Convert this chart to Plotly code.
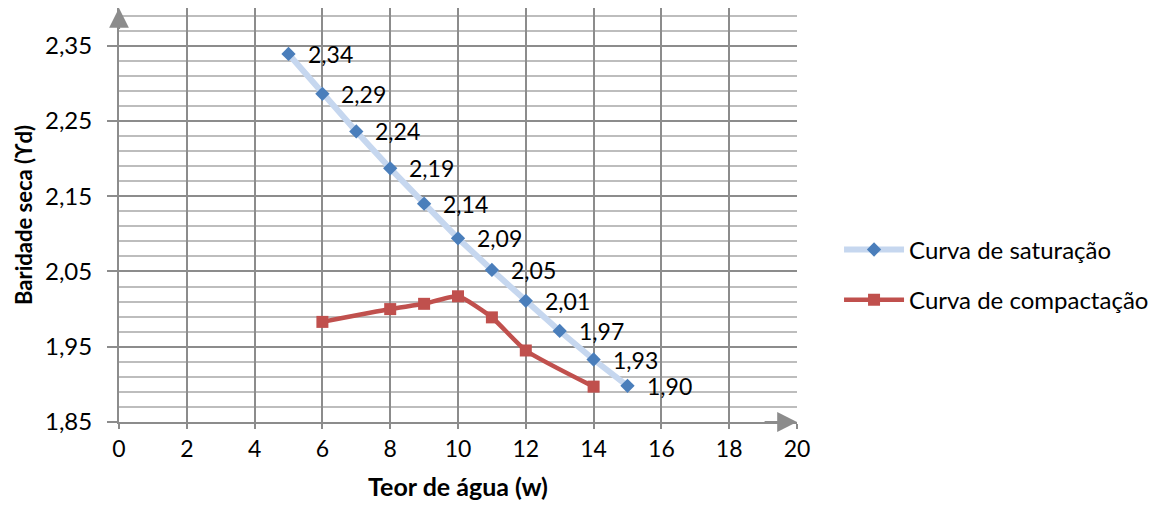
import plotly.graph_objects as go

# Data
sat_x = [5, 6, 7, 8, 9, 10, 11, 12, 13, 14, 15]
sat_y = [2.339, 2.286, 2.236, 2.187, 2.140, 2.094, 2.052, 2.011, 1.971, 1.933, 1.898]
comp_x = [6, 8, 9, 10, 11, 12, 14]
comp_y = [1.983, 2.000, 2.007, 2.017, 1.989, 1.945, 1.897]

x_ticks = list(range(0, 21, 2))
y_ticks = [1.85, 1.95, 2.05, 2.15, 2.25, 2.35]

FONT = "Lato"
GRID_MAJOR = "#8c8c8c"
GRID_MINOR = "#bdbdbd"

fig = go.Figure()
fig.add_trace(go.Scatter(
    x=sat_x, y=sat_y, mode="lines+markers", name="Curva de saturação",
    line=dict(color="#c6d7ef", width=6),
    marker=dict(symbol="diamond", size=11, color="#4a7ebb"),
    legendgroup="a",
))
fig.add_trace(go.Scatter(
    x=comp_x, y=comp_y, mode="lines+markers", name="Curva de compactação",
    line=dict(color="#c0504d", width=4.5, shape="spline", smoothing=0.5),
    marker=dict(symbol="square", size=12, color="#c0504d"),
    legendgroup="b",
))

for xv, yv in zip(sat_x, sat_y):
    fig.add_annotation(x=xv, y=yv, text=f"{yv:.2f}".replace(".", ","),
                       showarrow=False, xanchor="left", yanchor="middle",
                       xshift=17, font=dict(family=FONT, size=23, color="#000"))

# axis arrows
fig.add_annotation(x=0, y=2.40, ax=0, ay=2.37, xref="x", yref="y", axref="x", ayref="y",
                   showarrow=True, arrowhead=2, arrowsize=1.8, arrowwidth=2.2,
                   arrowcolor="#8c8c8c", text="")
fig.add_annotation(x=20, y=1.85, ax=19, ay=1.85, xref="x", yref="y", axref="x", ayref="y",
                   showarrow=True, arrowhead=2, arrowsize=1.8, arrowwidth=2.2,
                   arrowcolor="#8c8c8c", text="")

fig.update_layout(
    width=1165, height=512,
    margin=dict(l=111, r=376, t=0, b=98),
    paper_bgcolor="white", plot_bgcolor="white",
    separators=",.",
    font=dict(family=FONT, size=23, color="#000"),
    showlegend=True,
    legend=dict(x=1.062, y=0.47, xanchor="left", yanchor="top",
                font=dict(family=FONT, size=24, color="#000"),
                tracegroupgap=16, itemwidth=60, bgcolor="rgba(0,0,0,0)"),
    xaxis=dict(
        range=[0, 20], tickvals=x_ticks, ticktext=[str(v) for v in x_ticks],
        showgrid=True, gridcolor=GRID_MAJOR, gridwidth=1.5,
        showline=True, linecolor=GRID_MAJOR, linewidth=2,
        ticks="outside", ticklen=5, tickcolor=GRID_MAJOR, tickwidth=2,
        zeroline=False, automargin=False,
        title=dict(text="<b>Teor de água (w)</b>", font=dict(family=FONT, size=25), standoff=18),
        tickfont=dict(family=FONT, size=23),
    ),
    yaxis=dict(
        range=[1.85, 2.40], tickvals=y_ticks, ticktext=[f"{v:.2f}".replace(".", ",") for v in y_ticks],
        showgrid=True, gridcolor=GRID_MAJOR, gridwidth=1.5,
        minor=dict(dtick=0.02, tick0=1.85, showgrid=True, gridcolor=GRID_MINOR, gridwidth=1.5),
        showline=True, linecolor=GRID_MAJOR, linewidth=2,
        ticks="outside", ticklen=10, tickcolor=GRID_MAJOR, tickwidth=2,
        ticklabelstandoff=10,
        zeroline=False, automargin=False,
        title=dict(text="<b>Baridade seca (ϒd)</b>", font=dict(family=FONT, size=22), standoff=6),
        tickfont=dict(family=FONT, size=24),
    ),
)

fig.write_html("out.html")
